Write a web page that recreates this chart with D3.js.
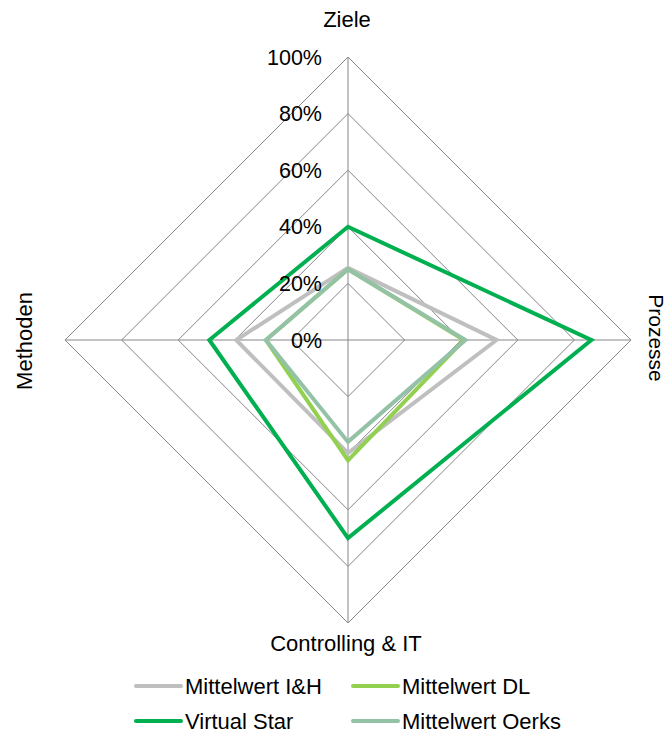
<!DOCTYPE html>
<html>
<head>
<meta charset="utf-8">
<script src="https://cdn.jsdelivr.net/npm/d3@7"></script>
<style>
  body { margin: 0; background: #fff; }
  svg text { font-family: "Liberation Sans", Arial, sans-serif; fill: #000; }
</style>
</head>
<body>
<svg id="chart" width="669" height="733"></svg>
<script>
// Radar axes (clockwise from the top)
const axes = ["Ziele", "Prozesse", "Controlling & IT", "Methoden"];
// Ring tick labels
const tickValues = [0, 0.2, 0.4, 0.6, 0.8, 1.0];
const tickLabels = ["0%", "20%", "40%", "60%", "80%", "100%"];

// Series, one value per axis
const seriesNames = ["Mittelwert I&H", "Mittelwert DL", "Virtual Star", "Mittelwert Oerks"];
const valuesIH    = [0.255, 0.525, 0.40, 0.395];
const valuesDL    = [0.25, 0.41, 0.425, 0.29];
const valuesStar  = [0.40, 0.86, 0.70, 0.49];
const valuesOerks = [0.25, 0.415, 0.36, 0.29];
const seriesColors = ["#bfbfbf", "#92d050", "#00b050", "#93c2a6"];

const series = seriesNames.map((n, i) => ({
  name: n,
  values: [valuesIH, valuesDL, valuesStar, valuesOerks][i],
  color: seriesColors[i]
}));

const svg = d3.select("#chart");
const cx = 348, cy = 340, R = 283;

const r = d3.scaleLinear().domain([0, 1]).range([0, R]);
const angle = d3.scaleBand().domain(axes).range([0, 2 * Math.PI]).paddingInner(0).paddingOuter(0);
const pt = (a, v) => [cx + r(v) * Math.sin(angle(a)), cy - r(v) * Math.cos(angle(a))];

const g = svg.append("g");

// Rings
tickValues.filter(v => v > 0).forEach(v => {
  g.append("polygon")
    .attr("points", axes.map(a => pt(a, v).join(",")).join(" "))
    .attr("fill", "none")
    .attr("stroke", "#868686")
    .attr("stroke-width", 1);
});

// Spokes
axes.forEach(a => {
  const [x, y] = pt(a, 1);
  g.append("line")
    .attr("x1", cx).attr("y1", cy).attr("x2", x).attr("y2", y)
    .attr("stroke", "#868686").attr("stroke-width", 1);
});

// Series polygons
const line = d3.line().curve(d3.curveLinearClosed);
series.forEach(s => {
  g.append("path")
    .attr("d", line(axes.map((a, i) => pt(a, s.values[i]))))
    .attr("fill", "none")
    .attr("stroke", s.color)
    .attr("stroke-width", 4)
    .attr("stroke-linejoin", "miter");
});

// Ring labels
tickValues.forEach((v, i) => {
  g.append("text")
    .attr("x", cx - 26)
    .attr("y", cy - r(v))
    .attr("dy", "0.35em")
    .attr("text-anchor", "end")
    .attr("font-size", 21.5)
    .text(tickLabels[i]);
});

// Axis titles
const fs = 22;
svg.append("text").attr("x", cx - 1).attr("y", 27).attr("text-anchor", "middle")
  .attr("font-size", fs).text(axes[0]);
svg.append("text").attr("transform", `translate(649,338) rotate(90)`)
  .attr("text-anchor", "middle").attr("font-size", 21).text(axes[1]);
svg.append("text").attr("x", cx - 2).attr("y", 651).attr("text-anchor", "middle")
  .attr("font-size", fs).text(axes[2]);
svg.append("text").attr("transform", `translate(32,341) rotate(-90)`)
  .attr("text-anchor", "middle").attr("font-size", fs).text(axes[3]);

// Legend (2 x 2)
const legendPos = [[136, 686], [353, 686], [136, 721], [353, 721]];
series.forEach((s, i) => {
  const [x, y] = legendPos[i];
  const lg = svg.append("g").attr("transform", `translate(${x},${y})`);
  lg.append("line").attr("x1", 0).attr("x2", 45).attr("y1", 0).attr("y2", 0)
    .attr("stroke", s.color).attr("stroke-width", 4).attr("stroke-linecap", "round");
  lg.append("text").attr("x", 49).attr("y", 0).attr("dy", "0.35em")
    .attr("font-size", fs).text(s.name);
});
</script>
</body>
</html>
